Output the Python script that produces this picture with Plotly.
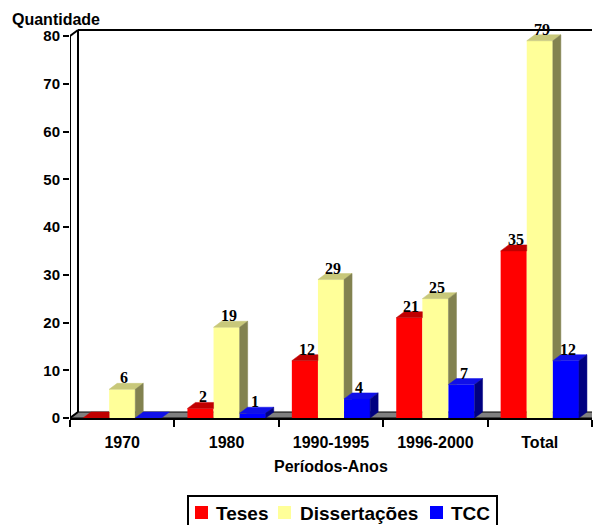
import plotly.graph_objects as go

# ---- data -------------------------------------------------------------
categories = ["1970", "1980", "1990-1995", "1996-2000", "Total"]
teses = [0, 2, 12, 21, 35]
dissertacoes = [6, 19, 29, 25, 79]
tcc = [0, 1, 4, 7, 12]
series_names = ["Teses", "Dissertações", "TCC"]
y_tick_values = [0, 10, 20, 30, 40, 50, 60, 70, 80]

# ---- styling ----------------------------------------------------------
front_colors = ["#FF0000", "#FFFF99", "#0000FF"]
top_colors = ["#C00000", "#C8C87A", "#1010E8"]
side_colors = ["#C00000", "#828250", "#000080"]

W, H = 593, 525
ML, MR, MT, MB = 70, 1, 25, 107
plot_w = W - ML - MR
plot_h = H - MT - MB
x_range = [-0.5, len(categories) - 0.5]
y_top = plot_h * 80 / 382.0          # 80 sits 382 px above the floor line
y_range = [0, y_top]

# depth of the pseudo-3D effect, in pixels, converted to data units
DXP, DYP = 8, 6
dx = DXP * (x_range[1] - x_range[0]) / plot_w
dy = DYP * (y_range[1] - y_range[0]) / plot_h

bar_w = 0.25
offsets = [-0.25, 0.0, 0.25]
series = [teses, dissertacoes, tcc]


def px_x(p):
    return (p - ML) / plot_w


def px_y(p):
    return (H - MB - p) / plot_h


def poly(points):
    return "M " + " L ".join(f"{x},{y}" for x, y in points) + " Z"


fig = go.Figure()

for k, (name, vals) in enumerate(zip(series_names, series)):
    fig.add_trace(go.Bar(
        x=[i + offsets[k] for i in range(len(categories))],
        y=vals,
        width=bar_w,
        name=name,
        marker=dict(color=front_colors[k], line=dict(width=0)),
        showlegend=False,
        hoverinfo="skip",
    ))

shapes = []
black = dict(color="black", width=2)

# floor and back wall
x_far = x_range[1] + 1
shapes.append(dict(type="path", xref="x", yref="y", layer="below",
                   path=poly([(x_range[0], 0), (x_far, 0), (x_far + dx, dy),
                              (x_range[0] + dx, dy)]),
                   fillcolor="#808080", line=dict(color="black", width=1)))
shapes.append(dict(type="line", xref="x", yref="y", layer="below",
                   x0=x_range[0] + dx, y0=dy, x1=x_range[0] + dx, y1=80 + dy,
                   line=black))
shapes.append(dict(type="line", xref="x", yref="y", layer="below",
                   x0=x_range[0] + dx, y0=80 + dy, x1=x_far, y1=80 + dy,
                   line=black))
# front vertical axis and its corner links to the wall
shapes.append(dict(type="line", xref="x", yref="y", layer="above",
                   x0=x_range[0], y0=0, x1=x_range[0], y1=80, line=black))
shapes.append(dict(type="line", xref="x", yref="y", layer="above",
                   x0=x_range[0], y0=80, x1=x_range[0] + dx, y1=80 + dy,
                   line=black))
shapes.append(dict(type="line", xref="x", yref="y", layer="below",
                   x0=x_range[0], y0=0, x1=x_range[0] + dx, y1=dy,
                   line=black))

# top and side faces of every column, back-to-front within each group
for i in range(len(categories)):
    for k, vals in enumerate(series):
        v = vals[i]
        x0 = i + offsets[k] - bar_w / 2
        x1 = x0 + bar_w
        nv = series[k + 1][i] if k + 1 < len(series) else None
        hidden_behind_next = nv is not None and nv >= v + dy
        if hidden_behind_next:
            top = [(x0, v), (x1, v), (x1, v + dy), (x0 + dx, v + dy)]
        else:
            top = [(x0, v), (x1, v), (x1 + dx, v + dy), (x0 + dx, v + dy)]
        shapes.append(dict(type="path", xref="x", yref="y", layer="above",
                           path=poly(top), fillcolor=top_colors[k],
                           line=dict(color=top_colors[k], width=0.5)))
        if not hidden_behind_next and v > 0:
            lo = 0 if nv is None else nv
            side = [(x1, lo), (x1, v), (x1 + dx, v + dy)]
            if lo < dy:
                side += [(x1 + dx, dy), (x1 + dx * lo / dy, lo)]
            else:
                side += [(x1 + dx, lo)]
            shapes.append(dict(type="path", xref="x", yref="y", layer="above",
                               path=poly(side), fillcolor=side_colors[k],
                               line=dict(color=side_colors[k], width=0.5)))

# value labels
annotations = []
for k, vals in enumerate(series):
    for i, v in enumerate(vals):
        if v == 0:
            continue
        annotations.append(dict(
            x=i + offsets[k] + dx / 4, y=v + dy, xref="x", yref="y",
            text=str(v), showarrow=False, xanchor="center", yanchor="bottom",
            yshift=-5,
            font=dict(family="Liberation Serif, Times New Roman, serif",
                      size=16, color="black", weight="bold")))

sans = "Liberation Sans, Arial, sans-serif"
annotations.append(dict(x=px_x(56), y=px_y(20), xref="paper", yref="paper",
                        text="Quantidade", showarrow=False,
                        xanchor="center", yanchor="middle",
                        font=dict(family=sans, size=16, color="black",
                                  weight="bold")))
annotations.append(dict(x=px_x(331), y=px_y(466), xref="paper", yref="paper",
                        text="Períodos-Anos", showarrow=False,
                        xanchor="center", yanchor="middle",
                        font=dict(family=sans, size=16, color="black",
                                  weight="bold")))

# legend box
shapes.append(dict(type="rect", xref="paper", yref="paper",
                   x0=px_x(188), x1=px_x(497), y0=px_y(496), y1=px_y(530),
                   line=black, fillcolor="white", layer="above"))
legend_sq = [195, 278, 430]
legend_tx = [214, 298, 449]
for k, name in enumerate(series_names):
    shapes.append(dict(type="rect", xref="paper", yref="paper",
                       x0=px_x(legend_sq[k]), x1=px_x(legend_sq[k] + 13),
                       y0=px_y(506), y1=px_y(519), line=dict(width=0),
                       fillcolor=front_colors[k], layer="above"))
    annotations.append(dict(x=px_x(legend_tx[k]), y=px_y(513), xref="paper",
                            yref="paper", text=name, showarrow=False,
                            xanchor="left", yanchor="middle",
                            font=dict(family=sans, size=19, color="black",
                                      weight="bold")))

fig.update_layout(
    width=W, height=H,
    margin=dict(l=ML, r=MR, t=MT, b=MB, pad=0),
    paper_bgcolor="white", plot_bgcolor="white",
    barmode="overlay",
    shapes=shapes, annotations=annotations,
    showlegend=False,
    xaxis=dict(range=x_range, tickmode="array",
               tickvals=list(range(len(categories))), ticktext=categories,
               ticks="outside", ticklen=9, tickcolor="rgba(0,0,0,0)",
               minor=dict(tickmode="array",
                          tickvals=[i - 0.5 for i in range(len(categories) + 1)],
                          ticks="outside", ticklen=7, tickwidth=2,
                          tickcolor="black", showgrid=False),
               showline=True, linecolor="black", linewidth=2,
               showgrid=False, zeroline=False, fixedrange=True,
               tickfont=dict(family=sans, size=16, color="black",
                             weight="bold")),
    yaxis=dict(range=y_range, tickmode="array", tickvals=y_tick_values,
               ticks="outside", ticklen=6, tickwidth=2, tickcolor="black",
               showline=False, showgrid=False, zeroline=False,
               fixedrange=True,
               tickfont=dict(family=sans, size=15, color="black",
                             weight="bold")),
)

fig.write_html("out.html")
